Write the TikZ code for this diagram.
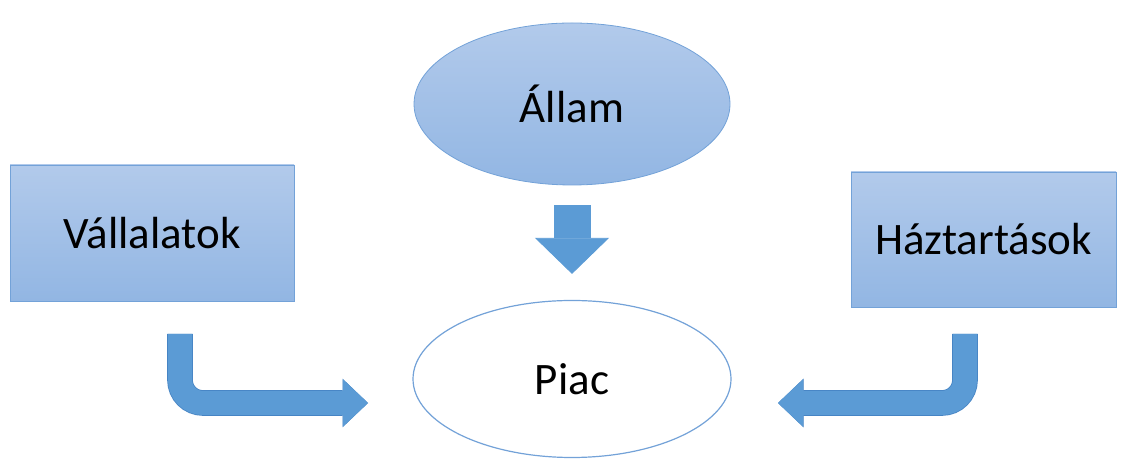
\documentclass[tikz,border=0pt]{standalone}
\usepackage{fontspec}
\setmainfont{Carlito}
\usepackage{xcolor}
\usetikzlibrary{arrows.meta, positioning, shapes.geometric}

\definecolor{boxtop}{RGB}{178,202,235}
\definecolor{boxbottom}{RGB}{146,182,227}
\definecolor{boxedge}{RGB}{115,162,216}
\definecolor{arrowblue}{RGB}{91,155,213}
\definecolor{arrowedge}{RGB}{70,132,196}

\tikzset{
    shaded/.style={draw=boxedge, line width=0.8pt, top color=boxtop, bottom color=boxbottom,
        inner sep=0pt, font=\fontsize{45}{50}\selectfont},
    blockarrow/.style={line width=24pt, draw=arrowblue,
        -{Triangle[length=25pt, width=47pt, line width=0.8pt, fill=arrowblue]},
        preaction={draw=arrowedge, line width=25.6pt,
            -{Triangle[length=25.5pt, width=48.5pt, line width=0.8pt, fill=arrowedge]}}}
}

\begin{document}
\begin{tikzpicture}[x=1pt, y=1pt]
    \useasboundingbox (0,0) rectangle (1123,462);

    % Állam and Piac
    \node[shaded, ellipse, minimum width=316pt, minimum height=162pt] (allam) at (572,358) {Állam};
    \node[ellipse, draw=boxedge, line width=1.2pt, fill=white, minimum width=318pt, minimum height=157pt,
        font=\fontsize{45}{50}\selectfont] (piac) at (572,83) {Piac};

    % side boxes
    \node[shaded, rectangle, minimum width=284pt, minimum height=136pt] (vall) at (152,229) {Vállalatok};
    \node[shaded, rectangle, minimum width=265pt, minimum height=135pt] (haz) at (983.5,222.5) {Háztartások};

    % Állam -> Piac
    \draw[line width=37pt, draw=arrowblue,
        -{Triangle[length=36pt, width=74pt, line width=0.8pt, fill=arrowblue]},
        shorten <=20pt, shorten >=26pt] (allam.south) -- (piac.north);

    % bent arrows
    \coordinate (vstart) at (180,128);
    \coordinate (vend) at (368,59);
    \coordinate (hstart) at (965,128);
    \coordinate (hend) at (778,59);
    \draw[blockarrow, rounded corners=23pt] (vstart) |- (vend);
    \draw[blockarrow, rounded corners=23pt] (hstart) |- (hend);
\end{tikzpicture}
\end{document}
